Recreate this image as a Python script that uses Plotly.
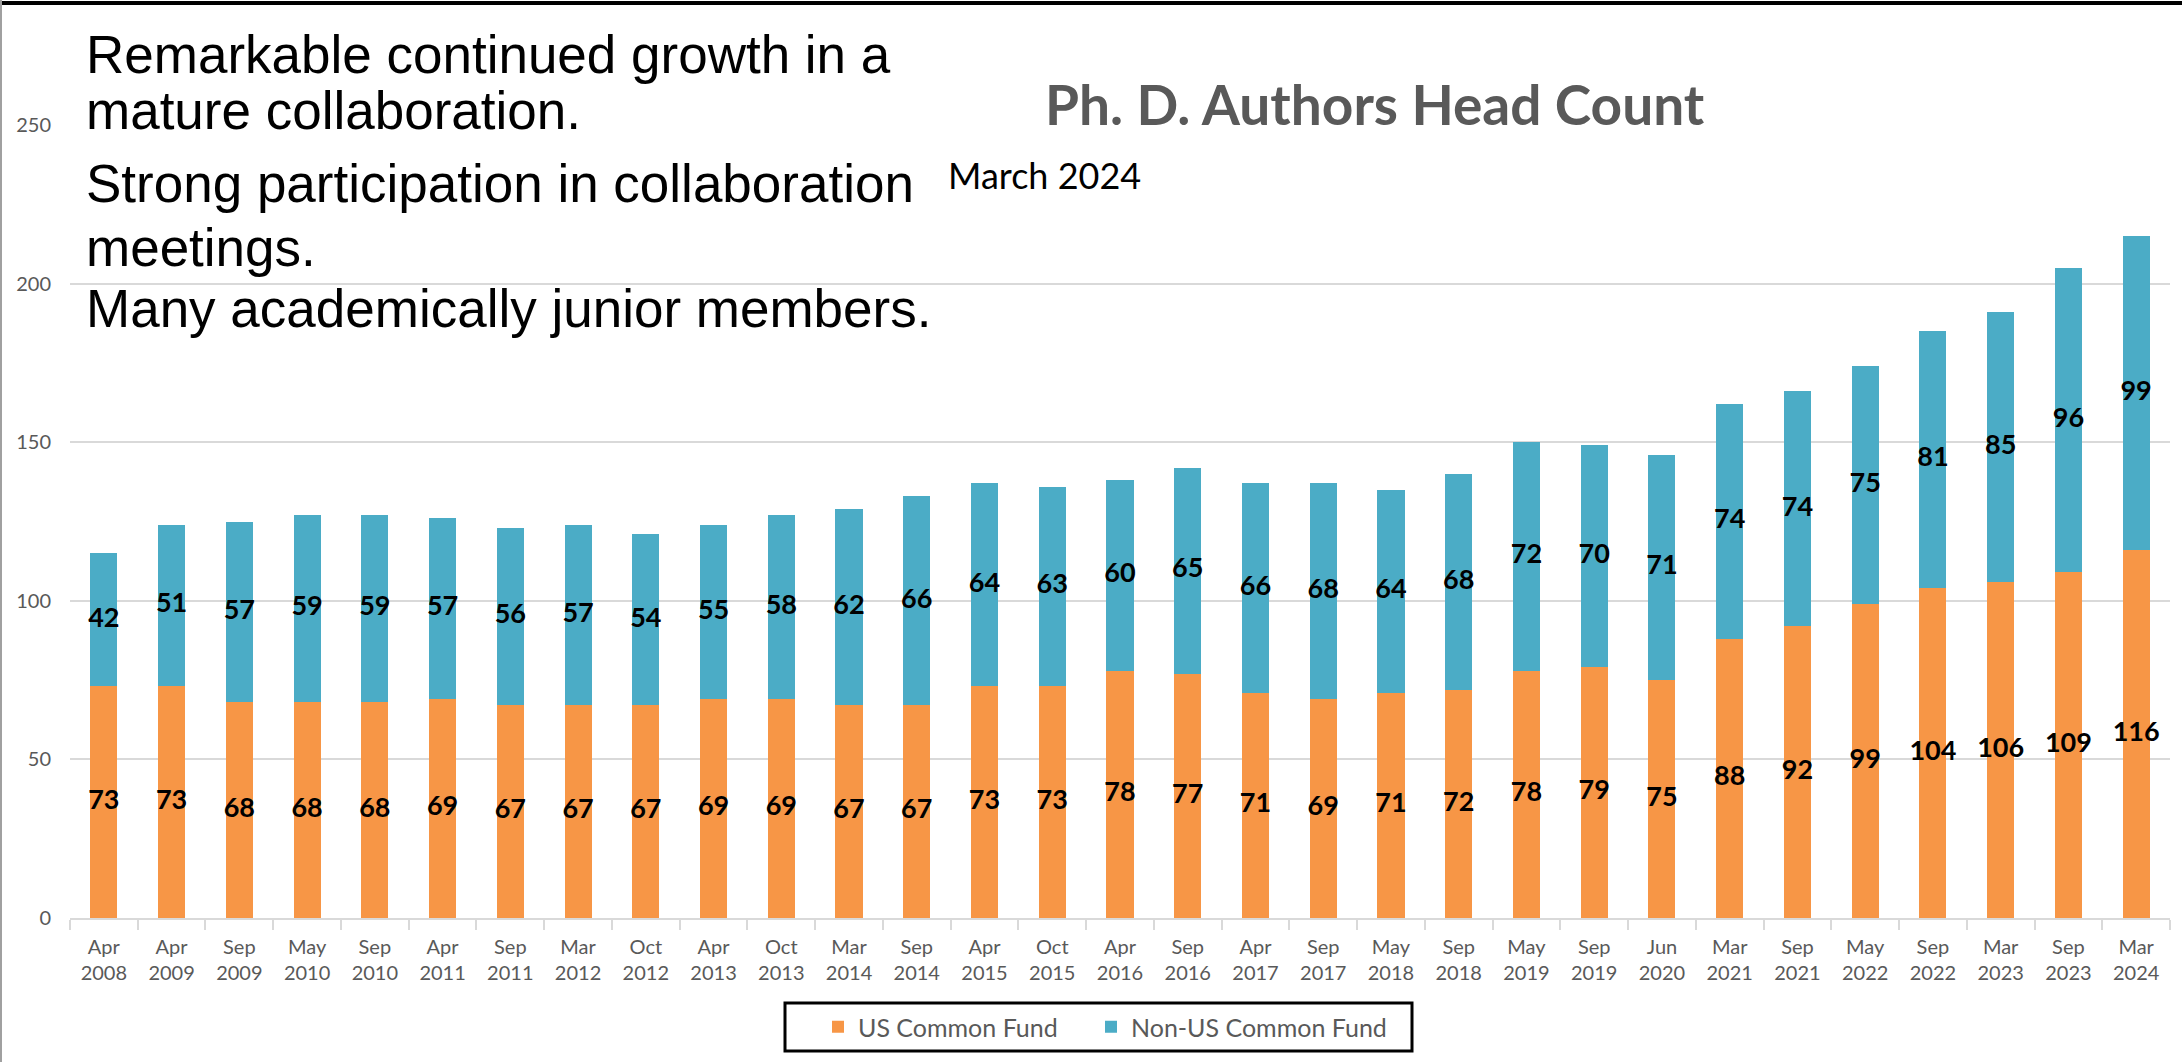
import plotly.graph_objects as go

months = ["Apr", "Apr", "Sep", "May", "Sep", "Apr", "Sep", "Mar", "Oct", "Apr", "Oct",
          "Mar", "Sep", "Apr", "Oct", "Apr", "Sep", "Apr", "Sep", "May", "Sep", "May",
          "Sep", "Jun", "Mar", "Sep", "May", "Sep", "Mar", "Sep", "Mar"]
years = ["2008", "2009", "2009", "2010", "2010", "2011", "2011", "2012", "2012", "2013", "2013",
         "2014", "2014", "2015", "2015", "2016", "2016", "2017", "2017", "2018", "2018", "2019",
         "2019", "2020", "2021", "2021", "2022", "2022", "2023", "2023", "2024"]
us_fund = [73, 73, 68, 68, 68, 69, 67, 67, 67, 69, 69, 67, 67, 73, 73, 78, 77, 71, 69, 71, 72,
           78, 79, 75, 88, 92, 99, 104, 106, 109, 116]
non_us_fund = [42, 51, 57, 59, 59, 57, 56, 57, 54, 55, 58, 62, 66, 64, 63, 60, 65, 66, 68, 64, 68,
               72, 70, 71, 74, 74, 75, 81, 85, 96, 99]
y_ticks = [0, 50, 100, 150, 200, 250]
notes = ["Remarkable continued growth in a", "mature collaboration.",
         "Strong participation in collaboration", "meetings.",
         "Many academically junior members."]

categories = [f"{m}<br>{y}" for m, y in zip(months, years)]

ORANGE = "#F79646"
BLUE = "#4BACC6"
GRAY = "#595959"
GRID = "#D9D9D9"
FONT = "Lato, Carlito, Calibri, sans-serif"

fig = go.Figure()
fig.add_trace(go.Bar(x=categories, y=us_fund, name="US Common Fund", legend="legend",
                     marker=dict(color=ORANGE, line=dict(width=0))))
fig.add_trace(go.Bar(x=categories, y=non_us_fund, name="Non-US Common Fund", legend="legend2",
                     marker=dict(color=BLUE, line=dict(width=0))))

# data labels centered in each segment
fig.add_trace(go.Scatter(x=categories, y=[v / 2 for v in us_fund], mode="text",
                         text=[str(v) for v in us_fund], showlegend=False, hoverinfo="skip",
                         cliponaxis=False,
                         textfont=dict(family=FONT, size=27, color="black", weight="bold")))
fig.add_trace(go.Scatter(x=categories, y=[u + n / 2 for u, n in zip(us_fund, non_us_fund)],
                         mode="text", text=[str(v) for v in non_us_fund], showlegend=False,
                         hoverinfo="skip", cliponaxis=False,
                         textfont=dict(family=FONT, size=27, color="black", weight="bold")))

W, H = 2182, 1062
ML, MR, MT, MB = 70, 12, 125, 144
PW, PH = W - ML - MR, H - MT - MB

def px_x(px):
    return (px - ML) / PW

def px_y(py):
    return (H - MB - py) / PH

legend_style = dict(orientation="h", xanchor="left", yanchor="middle",
                    bgcolor="rgba(0,0,0,0)", borderwidth=0,
                    font=dict(family=FONT, size=25, color=GRAY))

fig.update_layout(
    width=W, height=H,
    margin=dict(l=ML, r=MR, t=MT, b=MB, autoexpand=False),
    barmode="stack", bargap=0.6,
    plot_bgcolor="white", paper_bgcolor="white",
    font=dict(family=FONT, color=GRAY),
    showlegend=True,
    legend=dict(legend_style, x=px_x(818), y=px_y(1027)),
    legend2=dict(legend_style, x=px_x(1091), y=px_y(1027)),
    xaxis=dict(type="category", range=[-0.5, len(categories) - 0.5], automargin=False,
               showgrid=False, showline=True, linecolor=GRID, linewidth=2,
               ticks="outside", tickson="boundaries", ticklen=10, tickcolor=GRID, tickwidth=2,
               ticklabelstandoff=10,
               tickfont=dict(family=FONT, size=20, color=GRAY), fixedrange=True),
    yaxis=dict(range=[0, 250], tickvals=y_ticks, automargin=False,
               showgrid=True, gridcolor=GRID, gridwidth=2,
               zeroline=False, showline=False, ticks="outside", ticklen=14,
               tickcolor="rgba(0,0,0,0)",
               tickfont=dict(family=FONT, size=20, color=GRAY), fixedrange=True),
)

# legend frame
fig.add_shape(type="rect", xref="paper", yref="paper",
              x0=px_x(785), x1=px_x(1412), y0=px_y(1003), y1=px_y(1051),
              line=dict(color="black", width=3), fillcolor="rgba(0,0,0,0)", layer="above")

# title and subtitle
fig.add_annotation(text="<b>Ph. D. Authors Head Count</b>", xref="paper", yref="paper",
                   x=px_x(1375), y=px_y(104), xanchor="center", yanchor="middle",
                   showarrow=False, font=dict(family=FONT, size=55, color=GRAY))
fig.add_annotation(text="March 2024", xref="paper", yref="paper",
                   x=px_x(946), y=px_y(175), xanchor="left", yanchor="middle",
                   showarrow=False, font=dict(family=FONT, size=36, color="black"))

# overlay notes text
baselines = [74, 130, 203, 267, 328]
NS = 53
for line, b in zip(notes, baselines):
    fig.add_annotation(text=line, xref="paper", yref="paper",
                       x=px_x(84), y=px_y(b - 0.34 * NS - 1), xanchor="left", yanchor="middle",
                       showarrow=False,
                       font=dict(family="Liberation Sans, Arial, sans-serif", size=NS, color="black"))

# image frame lines
fig.add_shape(type="line", xref="paper", yref="paper", x0=px_x(0), x1=px_x(W), y0=px_y(3), y1=px_y(3),
              line=dict(color="black", width=4))
fig.add_shape(type="line", xref="paper", yref="paper", x0=px_x(1), x1=px_x(1), y0=px_y(0), y1=px_y(H),
              line=dict(color="#A0A0A0", width=2))

fig.write_html("out.html", config={"displayModeBar": False},
               post_script="document.body.style.margin='0';document.body.style.overflow='hidden';")
